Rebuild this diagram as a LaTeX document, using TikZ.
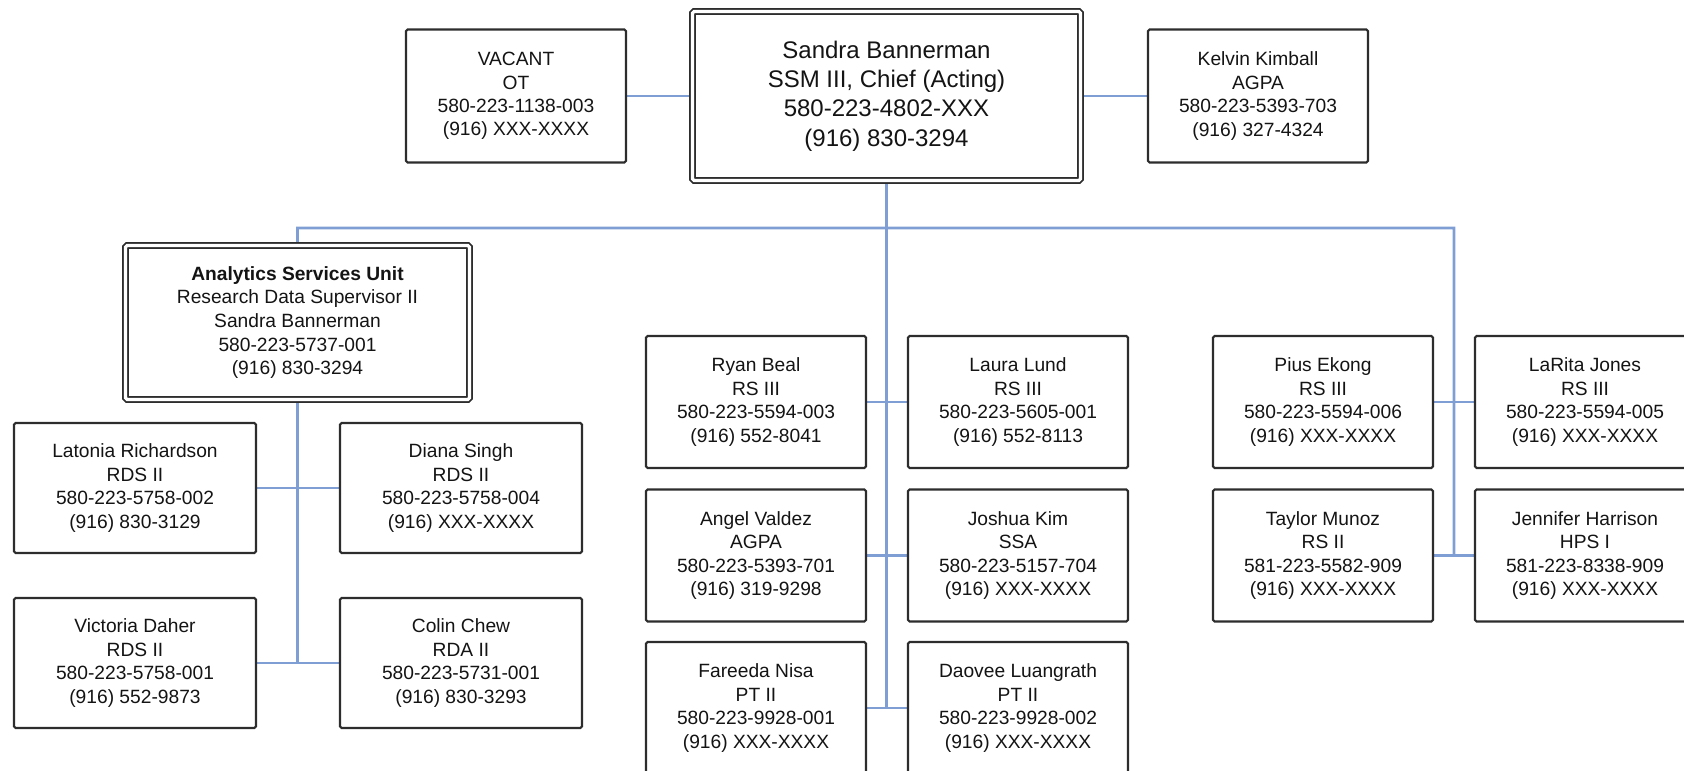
\documentclass[tikz,border=0pt]{standalone}
\usepackage{fontspec}
\setmainfont{Liberation Sans}
\usetikzlibrary{backgrounds,calc}
\definecolor{connc}{RGB}{127,158,212}
\definecolor{bord}{RGB}{45,45,45}
\definecolor{txt}{RGB}{20,20,20}
\tikzset{
  pbox/.style={draw=bord, line width=1.1pt, fill=white, rounded corners=0.8pt,
    align=center, inner sep=0pt, minimum width=110pt, minimum height=66pt,
    text=txt, font=\fontsize{9.6}{11.7}\selectfont},
  lbox/.style={pbox, minimum width=121pt, minimum height=65pt},
  dbox/.style={pbox, double=white, double distance=1.6pt, line width=0.9pt},
  link/.style={draw=connc, line width=1.3pt}
}
\begin{document}
\begin{tikzpicture}[x=0.5pt, y=-0.5pt]
\clip (0,0) rectangle (1684,770);

% top row
\node[pbox, minimum height=66.5pt] (vacant) at (516,96) {VACANT\\OT\\580-223-1138-003\\(916) XXX-XXXX};
\node[dbox, minimum width=194pt, minimum height=84.5pt, font=\fontsize{12}{14.7}\selectfont] (chief) at (886.5,96)
  {Sandra Bannerman\\SSM III, Chief (Acting)\\580-223-4802-XXX\\(916) 830-3294};
\node[pbox, minimum height=66.5pt] (kelvin) at (1258,96) {Kelvin Kimball\\AGPA\\580-223-5393-703\\(916) 327-4324};

% left group
\node[dbox, minimum width=172pt, minimum height=77pt, font=\fontsize{9.6}{11.85}\selectfont] (asu) at (297.5,322.5)
  {\textbf{Analytics Services Unit}\\Research Data Supervisor II\\Sandra Bannerman\\580-223-5737-001\\(916) 830-3294};
\node[lbox] (latonia) at (135,488) {Latonia Richardson\\RDS II\\580-223-5758-002\\(916) 830-3129};
\node[lbox] (diana) at (461,488) {Diana Singh\\RDS II\\580-223-5758-004\\(916) XXX-XXXX};
\node[lbox] (victoria) at (135,663) {Victoria Daher\\RDS II\\580-223-5758-001\\(916) 552-9873};
\node[lbox] (colin) at (461,663) {Colin Chew\\RDA II\\580-223-5731-001\\(916) 830-3293};

% center group
\node[pbox] (ryan) at (756,402) {Ryan Beal\\RS III\\580-223-5594-003\\(916) 552-8041};
\node[pbox] (laura) at (1018,402) {Laura Lund\\RS III\\580-223-5605-001\\(916) 552-8113};
\node[pbox] (angel) at (756,555.5) {Angel Valdez\\AGPA\\580-223-5393-701\\(916) 319-9298};
\node[pbox] (joshua) at (1018,555.5) {Joshua Kim\\SSA\\580-223-5157-704\\(916) XXX-XXXX};
\node[pbox] (fareeda) at (756,708) {Fareeda Nisa\\PT II\\580-223-9928-001\\(916) XXX-XXXX};
\node[pbox] (daovee) at (1018,708) {Daovee Luangrath\\PT II\\580-223-9928-002\\(916) XXX-XXXX};

% right group
\node[pbox] (pius) at (1323,402) {Pius Ekong\\RS III\\580-223-5594-006\\(916) XXX-XXXX};
\node[pbox] (larita) at (1585,402) {LaRita Jones\\RS III\\580-223-5594-005\\(916) XXX-XXXX};
\node[pbox] (taylor) at (1323,555.5) {Taylor Munoz\\RS II\\581-223-5582-909\\(916) XXX-XXXX};
\node[pbox] (jennifer) at (1585,555.5) {Jennifer Harrison\\HPS I\\581-223-8338-909\\(916) XXX-XXXX};

\begin{scope}[on background layer]
  \coordinate (busL) at (297.5,228);
  \coordinate (busR) at (1454,228);
  \coordinate (cEnd) at ($(fareeda.east)!0.5!(daovee.west)$);
  \coordinate (rEnd) at ($(taylor.east)!0.5!(jennifer.west)$);
  \coordinate (lEnd) at ($(victoria.east)!0.5!(colin.west)$);
  \draw[link] (vacant.east) -- (chief.west);
  \draw[link] (chief.east) -- (kelvin.west);
  \draw[link] (chief.south) -- (chief.south |- cEnd);
  \draw[link] (asu.north) -- (busL) -- (busR) -- (rEnd);
  \draw[link] (asu.south) -- (asu.south |- lEnd);
  \draw[link] (latonia.east) -- (diana.west);
  \draw[link] (victoria.east) -- (colin.west);
  \draw[link] (ryan.east) -- (laura.west);
  \draw[link] (angel.east) -- (joshua.west);
  \draw[link] (fareeda.east) -- (daovee.west);
  \draw[link] (pius.east) -- (larita.west);
  \draw[link] (taylor.east) -- (jennifer.west);
\end{scope}
\end{tikzpicture}
\end{document}
